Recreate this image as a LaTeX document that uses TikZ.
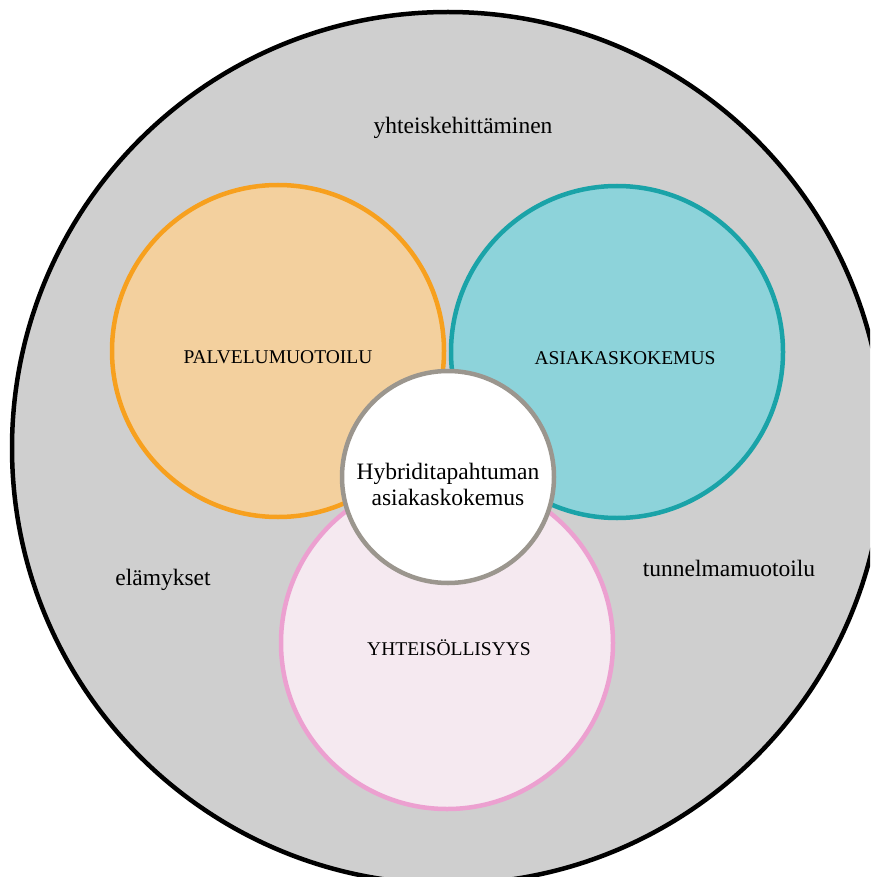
\documentclass[tikz,border=0pt]{standalone}
\usepackage{fontspec}
\setmainfont{Liberation Serif}
\usepackage{tikz}
\definecolor{ringgray}{RGB}{207, 207, 207}
\definecolor{pvorange}{RGB}{247, 160, 30}
\definecolor{pvfill}{RGB}{243, 208, 158}
\definecolor{akteal}{RGB}{26, 163, 168}
\definecolor{akfill}{RGB}{141, 211, 218}
\definecolor{ytpink}{RGB}{236, 160, 208}
\definecolor{ytfill}{RGB}{245, 233, 240}
\definecolor{coregray}{RGB}{155, 150, 142}

\begin{document}
\begin{tikzpicture}[x=1pt, y=-1pt,
  caps/.style={font=\fontsize{19.5}{23}\selectfont},
  words/.style={font=\fontsize{23.5}{26}\selectfont, align=center},
  bubble/.style={circle, line width=4.5pt, minimum size=332pt, inner sep=0pt}]
\clip (0,0) rectangle (870,877);

% outer ring
\node[circle, draw=black, fill=ringgray, line width=4.5pt, minimum size=872pt] (ring) at (448,448) {};
\node[words] (yk) at (463,128) {yhteiskehittäminen};
\node[words] (el) at (163,580) {elämykset};
\node[words] (tm) at (729,568) {tunnelmamuotoilu};

% the three areas
\node[bubble, draw=pvorange, fill=pvfill] (pv) at (278,351) {};
\node[caps] at (278,357) {PALVELUMUOTOILU};

\node[bubble, draw=akteal, fill=akfill] (ak) at (617,352) {};
\node[caps] at (625,358) {ASIAKASKOKEMUS};

\node[bubble, draw=ytpink, fill=ytfill] (yt) at (447,643) {};
\node[caps] at (449,648) {YHTEISÖLLISYYS};

% center
\node[circle, draw=coregray, fill=white, line width=4.5pt, minimum size=212pt, inner sep=0pt] (core) at (448,477) {};
\node[words] at (448,484) {Hybriditapahtuman\\asiakaskokemus};
\end{tikzpicture}
\end{document}
